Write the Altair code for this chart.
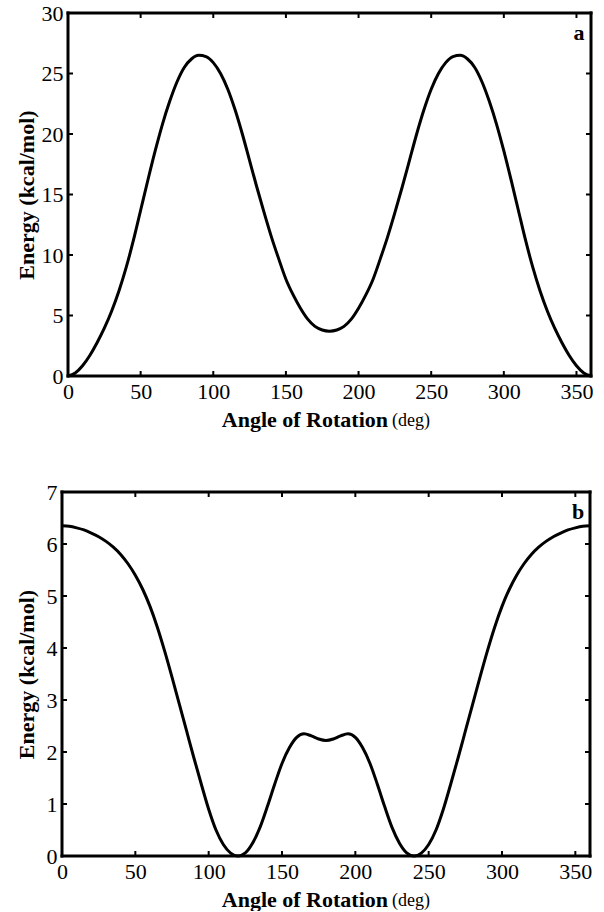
import altair as alt
import pandas as pd

# ---------------- data ----------------
angles = [0, 5, 10, 15, 20, 25, 30, 35, 40, 45, 50, 55, 60, 65, 70, 75, 80, 85, 90,
          95, 100, 105, 110, 115, 120, 125, 130, 135, 140, 145, 150, 155, 160, 165, 170, 175, 180,
          185, 190, 195, 200, 205, 210, 215, 220, 225, 230, 235, 240, 245, 250, 255, 260, 265, 270,
          275, 280, 285, 290, 295, 300, 305, 310, 315, 320, 325, 330, 335, 340, 345, 350, 355, 360]

energy_a = [0.0, 0.25, 0.85, 1.7, 2.75, 3.95, 5.35, 7.0, 8.95, 11.2, 13.7, 16.2, 18.6, 20.8, 22.7, 24.3, 25.5, 26.2, 26.5,
            26.4, 25.9, 25.0, 23.7, 22.0, 20.0, 17.8, 15.6, 13.5, 11.5, 9.7, 8.0, 6.7, 5.6, 4.7, 4.1, 3.8, 3.7,
            3.8, 4.1, 4.7, 5.6, 6.7, 8.0, 9.7, 11.5, 13.5, 15.6, 17.8, 20.0, 22.0, 23.7, 25.0, 25.9, 26.4, 26.5,
            26.2, 25.5, 24.3, 22.7, 20.8, 18.6, 16.2, 13.7, 11.2, 8.95, 7.0, 5.35, 3.95, 2.75, 1.7, 0.85, 0.25, 0.0]

energy_b = [6.35, 6.34, 6.31, 6.27, 6.21, 6.14, 6.05, 5.94, 5.80, 5.62, 5.40, 5.13, 4.80, 4.40, 3.94, 3.44, 2.92, 2.40, 1.88,
            1.38, 0.9, 0.5, 0.22, 0.055, 0.0, 0.06, 0.25, 0.55, 0.95, 1.38, 1.78, 2.08, 2.28, 2.35, 2.31, 2.25, 2.22,
            2.25, 2.31, 2.35, 2.28, 2.08, 1.78, 1.38, 0.95, 0.55, 0.25, 0.06, 0.0, 0.055, 0.22, 0.5, 0.9, 1.38, 1.88,
            2.40, 2.92, 3.44, 3.94, 4.40, 4.80, 5.13, 5.40, 5.62, 5.80, 5.94, 6.05, 6.14, 6.21, 6.27, 6.31, 6.34, 6.35]

x_ticks = [0, 50, 100, 150, 200, 250, 300, 350]
y_ticks_a = [0, 5, 10, 15, 20, 25, 30]
y_ticks_b = [0, 1, 2, 3, 4, 5, 6, 7]

FONT = "Liberation Serif"
TICK = 5
FRAME = 3


def panel(values, yticks, ymax, W, H, letter, shift, xt_split):
    """shift: how many px the drawn frame extends left of the view origin."""
    df = pd.DataFrame({"angle": angles, "energy": values})
    xs = alt.Scale(domain=[0, 360], nice=False, zero=False, range=[-shift, W])
    ys = alt.Scale(domain=[0, ymax], nice=False)
    xa = alt.Axis(values=x_ticks, title=None, tickSize=0, domain=False, grid=False,
                  labelFont=FONT, labelFontSize=22, labelColor="black",
                  labelPadding=5, labelFlush=False)
    ya = alt.Axis(values=yticks, title="Energy (kcal/mol)", titleFont=FONT,
                  titleFontSize=22, titleFontWeight="bold", titleColor="black",
                  titleX=-42, titleY=H / 2, titleAngle=270, titleAlign="center",
                  titleBaseline="middle", tickSize=0, domain=False, grid=False,
                  labelFont=FONT, labelFontSize=22, labelColor="black",
                  labelPadding=5 + shift, labelFlush=False)

    line = alt.Chart(df).mark_line(color="black", strokeWidth=3, interpolate="monotone").encode(
        x=alt.X("angle:Q", scale=xs, axis=xa),
        y=alt.Y("energy:Q", scale=ys, axis=ya),
    )

    xt = pd.DataFrame({"angle": x_ticks})
    yt = pd.DataFrame({"energy": yticks})
    rule = dict(color="black", strokeWidth=2)
    bot = alt.Chart(xt).mark_rule(**rule).encode(
        x=alt.X("angle:Q", scale=xs, axis=xa), y=alt.value(H), y2=alt.value(H - TICK))
    top = alt.Chart(xt).mark_rule(**rule).encode(
        x=alt.X("angle:Q", scale=xs, axis=xa), y=alt.value(0), y2=alt.value(TICK))
    left = alt.Chart(yt).mark_rule(**rule).encode(
        y=alt.Y("energy:Q", scale=ys, axis=ya), x=alt.value(-shift), x2=alt.value(-shift + TICK))
    right = alt.Chart(yt).mark_rule(**rule).encode(
        y=alt.Y("energy:Q", scale=ys, axis=ya), x=alt.value(W), x2=alt.value(W - TICK))

    one = pd.DataFrame({"k": [0]})
    fr = dict(color="black", strokeWidth=FRAME, strokeCap="square")
    frame = [
        alt.Chart(one).mark_rule(**fr).encode(x=alt.value(-shift), x2=alt.value(W), y=alt.value(0)),
        alt.Chart(one).mark_rule(**fr).encode(x=alt.value(-shift), x2=alt.value(W), y=alt.value(H)),
        alt.Chart(one).mark_rule(**fr).encode(x=alt.value(-shift), y=alt.value(0), y2=alt.value(H)),
        alt.Chart(one).mark_rule(**fr).encode(x=alt.value(W), y=alt.value(0), y2=alt.value(H)),
    ]

    lab = alt.Chart(pd.DataFrame({"t": [letter]})).mark_text(
        font=FONT, fontSize=22, fontWeight="bold", color="black", align="center", baseline="middle"
    ).encode(x=alt.value(W - 12), y=alt.value(20), text="t:N")

    t1 = alt.Chart(pd.DataFrame({"t": ["Angle of Rotation"]})).mark_text(
        font=FONT, fontSize=22, fontWeight="bold", color="black", align="right", baseline="middle"
    ).encode(x=alt.value(xt_split), y=alt.value(H + 44), text="t:N")
    t2 = alt.Chart(pd.DataFrame({"t": ["(deg)"]})).mark_text(
        font=FONT, fontSize=18, color="black", align="left", baseline="middle"
    ).encode(x=alt.value(xt_split + 4), y=alt.value(H + 45), text="t:N")

    return alt.layer(line, bot, top, left, right, *frame, lab, t1, t2).properties(width=W, height=H)


pa = panel(energy_a, y_ticks_a, 30, 523, 363, "a", 0, 320)
pb = panel(energy_b, y_ticks_b, 7, 522, 364, "b", 6, 320)

chart = alt.vconcat(pa, pb, spacing=50).configure_view(
    strokeOpacity=0
).properties(
    padding={"left": 15, "top": 2, "right": 5, "bottom": 0},
    background="white",
)

chart.save("out.html", embed_options={"renderer": "svg", "actions": False})
